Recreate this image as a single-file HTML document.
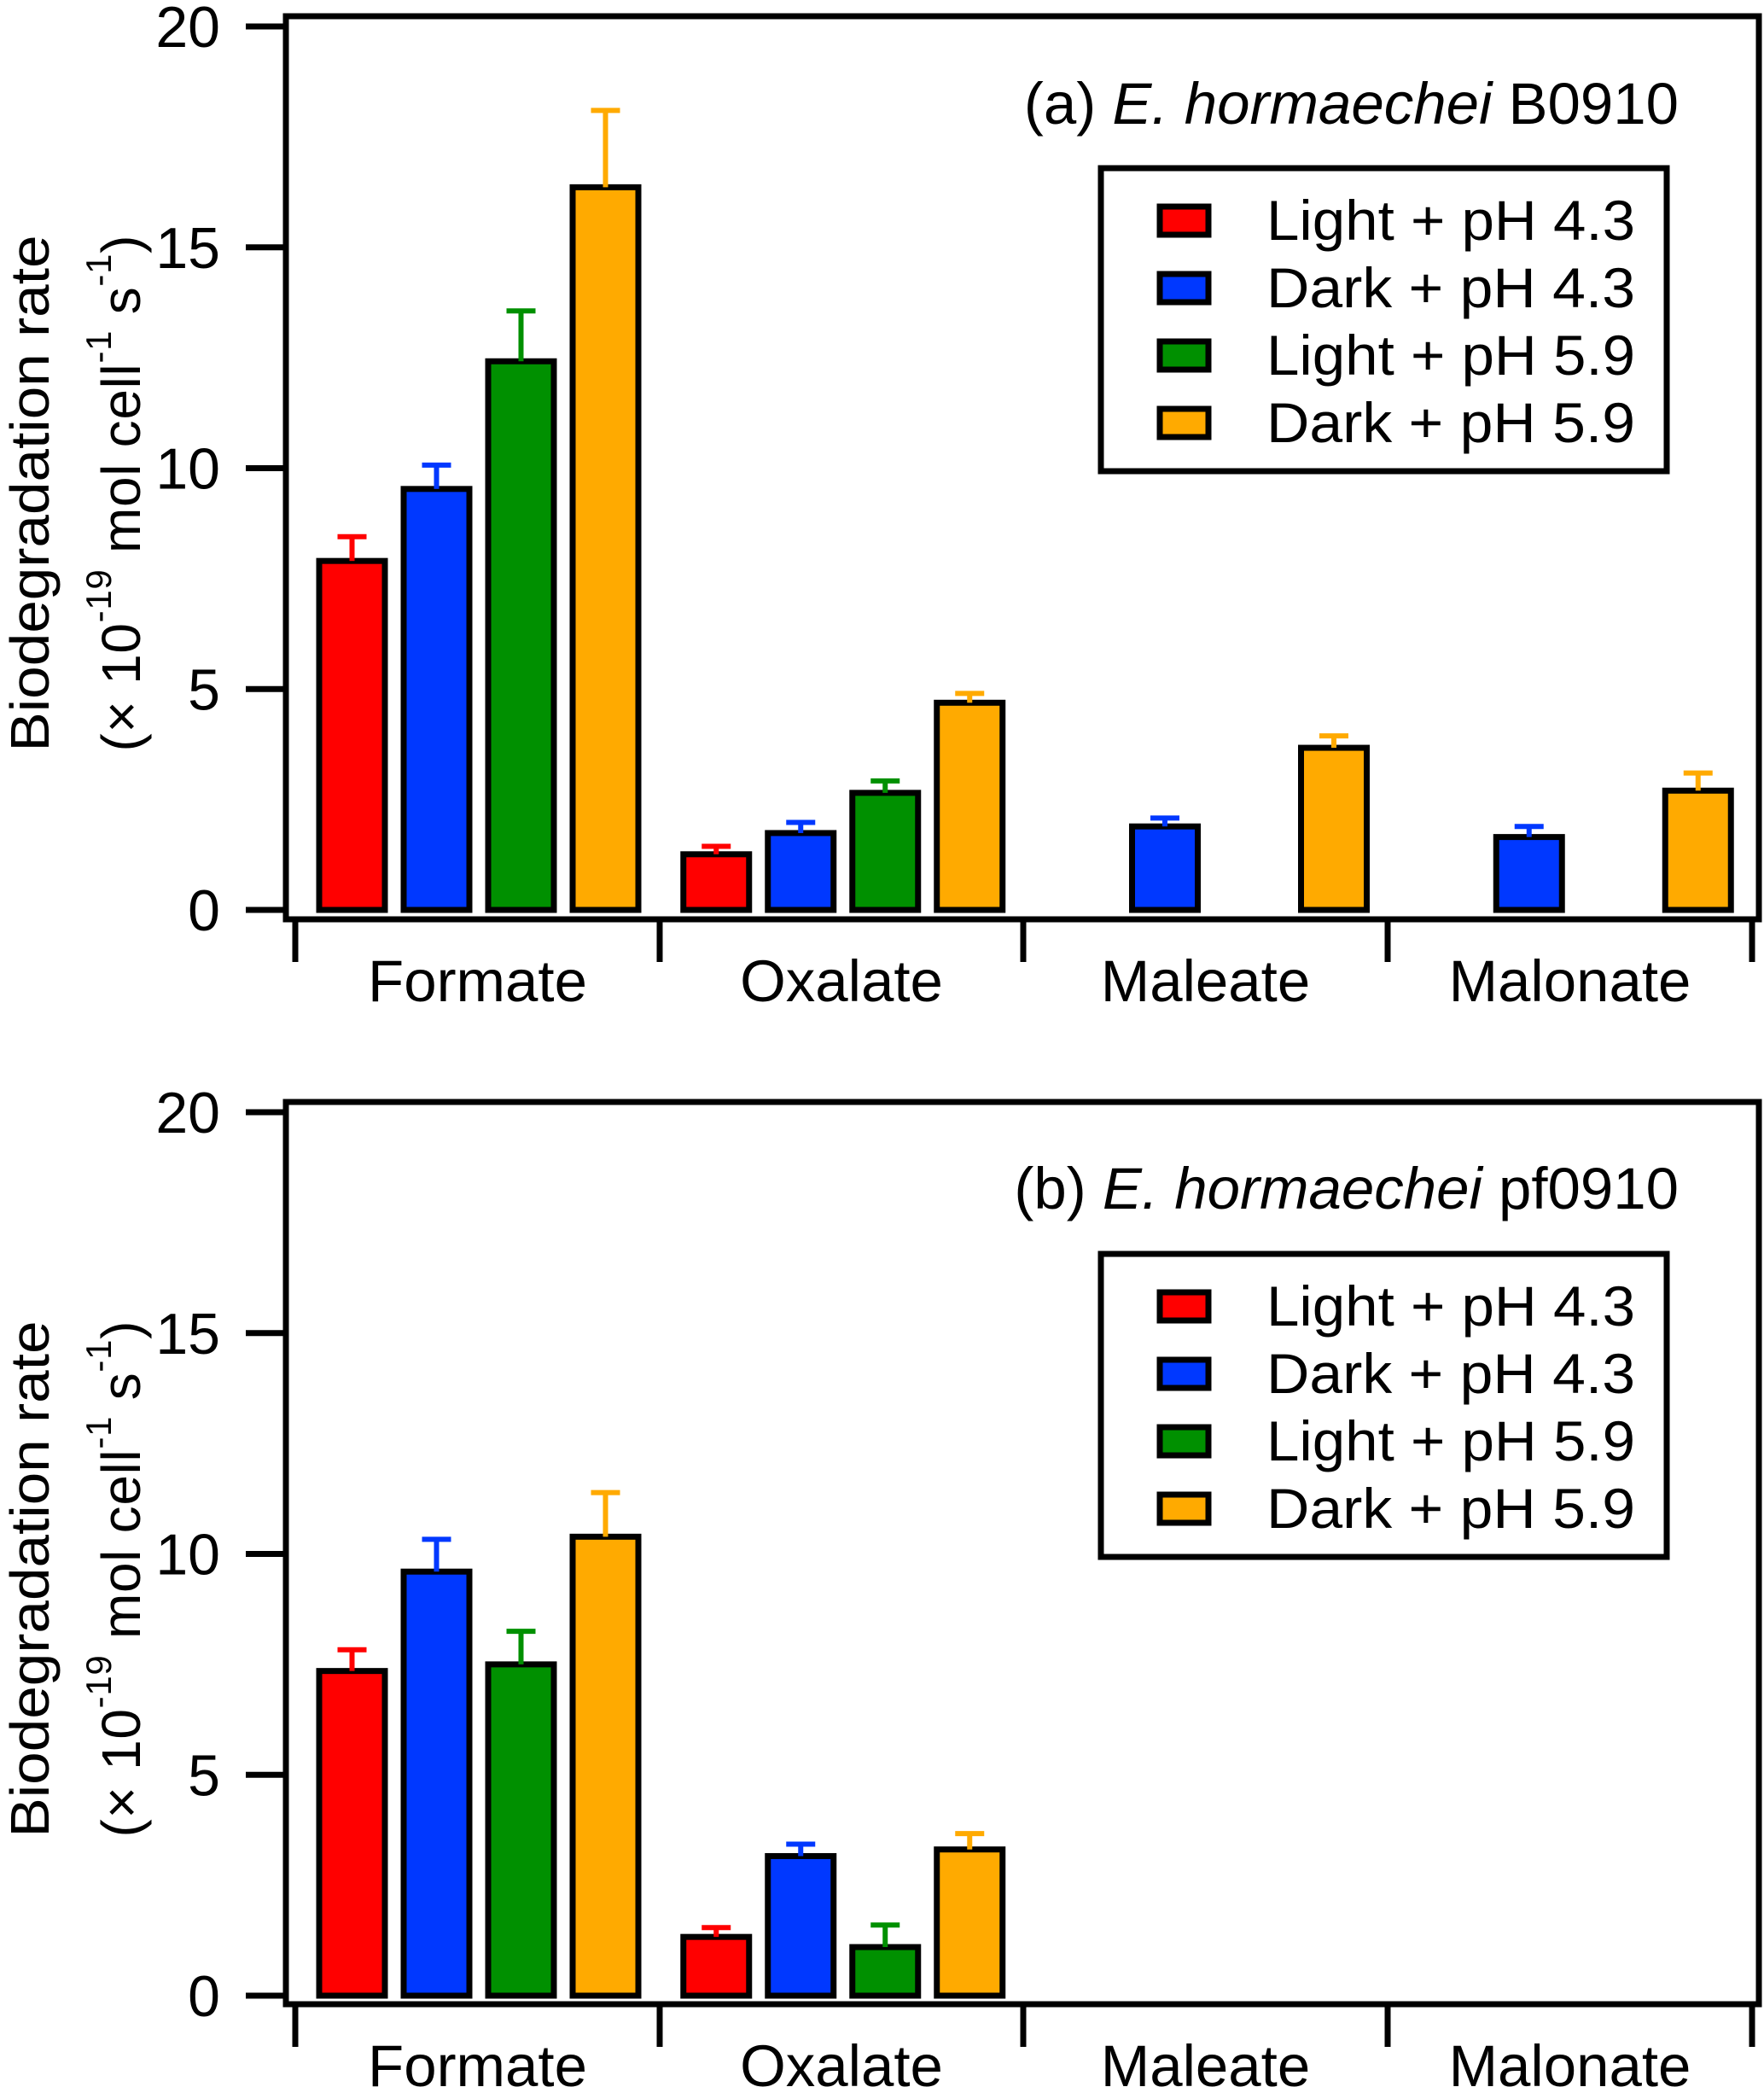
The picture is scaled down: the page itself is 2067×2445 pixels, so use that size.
<!DOCTYPE html>
<html><head><meta charset="utf-8">
<style>
html,body{margin:0;padding:0;background:#fff;}
svg{display:block;font-family:"Liberation Sans",Arial,sans-serif;}
</style></head>
<body>
<svg id="chart" width="2067" height="2445" viewBox="0 0 2067 2445" xmlns="http://www.w3.org/2000/svg"></svg>
<script>
const categories = ["Formate","Oxalate","Maleate","Malonate"];
const seriesNames = ["Light + pH 4.3","Dark + pH 4.3","Light + pH 5.9","Dark + pH 5.9"];
const seriesColors = ["#ff0000","#0038ff","#009000","#ffaa00"];
const yTicks = [0,5,10,15,20];
// panel (a) values per series, across categories (null = not measured)
const aLight43 = [7.9, 1.26, null, null];
const aDark43  = [9.53, 1.74, 1.89, 1.65];
const aLight59 = [12.42, 2.65, null, null];
const aDark59  = [16.36, 4.69, 3.67, 2.7];
const aErrLight43 = [0.55, 0.18, null, null];
const aErrDark43  = [0.54, 0.24, 0.19, 0.24];
const aErrLight59 = [1.14, 0.27, null, null];
const aErrDark59  = [1.74, 0.21, 0.27, 0.4];
// panel (b)
const bLight43 = [7.35, 1.33, null, null];
const bDark43  = [9.6, 3.16, null, null];
const bLight59 = [7.5, 1.1, null, null];
const bDark59  = [10.39, 3.31, null, null];
const bErrLight43 = [0.48, 0.21, null, null];
const bErrDark43  = [0.73, 0.27, null, null];
const bErrLight59 = [0.75, 0.5, null, null];
const bErrDark59  = [1.0, 0.36, null, null];

const NS = "http://www.w3.org/2000/svg";
const svg = document.getElementById("chart");
function el(tag, attrs, parent){
  const e = document.createElementNS(NS, tag);
  for (const k in attrs) e.setAttribute(k, attrs[k]);
  (parent||svg).appendChild(e);
  return e;
}

function drawPanel(p){
  const g = el("g", {});
  
  
  const xL = 335, xR = 2061;
  const y0 = p.y0, y20 = p.y20;
  const yScale = v => y0 - (v/20)*(y0 - y20);
  const sepX = [346, 773, 1199, 1626, 2053];
  const groupX = i => sepX[0] + i*(sepX[4]-sepX[0])/categories.length;
  const barW = 83, pitch = 99, off = 25;

  const vals = p.values, errs = p.errs;
  for (let s=0;s<4;s++){
    for (let c=0;c<categories.length;c++){
      const v = vals[s][c];
      if (v==null) continue;
      const bx = groupX(c) + off + s*pitch;
      const top = yScale(v);
      const r = el("rect", {x:bx+3, y:top, width:barW-6, height:y0-top, fill:seriesColors[s], stroke:"#000", "stroke-width":7}, g);
      
      
    }
  }
  for (let s=0;s<4;s++){
    for (let c=0;c<categories.length;c++){
      const v = vals[s][c], e = errs[s][c];
      if (v==null || e==null) continue;
      const cx = groupX(c) + off + s*pitch + barW/2;
      const yt = yScale(v), ye = yScale(v+e);
      const eg = el("g", {stroke:seriesColors[s], "stroke-width":6}, g);
      
      
      el("line", {x1:cx, y1:yt, x2:cx, y2:ye}, eg);
      el("line", {x1:cx-17, y1:ye, x2:cx+17, y2:ye}, eg);
    }
  }
  const fr = el("rect", {x:xL, y:p.top, width:xR-xL, height:p.axisY-p.top, fill:"none", stroke:"#000", "stroke-width":7}, g);
  
  
  for (const t of yTicks){
    const y = yScale(t);
    el("line", {x1:288, y1:y, x2:xL, y2:y, stroke:"#000", "stroke-width":7}, g);
    const tl = el("text", {x:258, y:y+24, "text-anchor":"end", "font-size":68}, g);
    
    
    tl.textContent = t;
  }
  for (const sx of sepX){
    el("line", {x1:sx, y1:p.axisY, x2:sx, y2:p.axisY+50, stroke:"#000", "stroke-width":7}, g);
  }
  for (let c=0;c<categories.length;c++){
    const cx = (sepX[c]+sepX[c+1])/2;
    const t = el("text", {x:cx, y:p.axisY+96, "text-anchor":"middle", "font-size":69}, g);
    
    
    t.textContent = categories[c];
  }
  const cy = p.titleY;
  const t1 = el("text", {transform:`translate(57,${cy}) rotate(-90)`, "text-anchor":"middle", "font-size":64, textLength:605, lengthAdjust:"spacingAndGlyphs"}, g);
  
  
  t1.textContent = "Biodegradation rate";
  const t2 = el("text", {transform:`translate(164,${cy}) rotate(-90)`, "text-anchor":"middle", "font-size":64, textLength:605, lengthAdjust:"spacing"}, g);
  
  
  t2.innerHTML = '(× 10<tspan font-size="42" dy="-34">-19</tspan><tspan dy="34"> mol cell</tspan><tspan font-size="42" dy="-34">-1</tspan><tspan dy="34"> s</tspan><tspan font-size="42" dy="-34">-1</tspan><tspan dy="34">)</tspan>';
  const an = el("text", {x:1967, y:p.annY, "text-anchor":"end", "font-size":69}, g);
  
  
  an.innerHTML = p.label + ' <tspan font-style="italic">E. hormaechei</tspan> ' + p.strain;
  const lg = el("g", {}, g);
  
  
  el("rect", {x:1290, y:p.legY, width:663, height:355, fill:"#fff", stroke:"#000", "stroke-width":7}, lg);
  for (let s=0;s<4;s++){
    const ry = p.legY + 61 + s*79;
    const sw = el("rect", {x:1359, y:ry-16, width:57, height:33, fill:seriesColors[s], stroke:"#000", "stroke-width":7}, lg);
    
    
    const lt = el("text", {x:1484, y:ry+23, "font-size":66, textLength:432, lengthAdjust:"spacingAndGlyphs"}, lg);
    
    
    lt.textContent = seriesNames[s];
  }
}

drawPanel({id:"a", top:19, axisY:1077, y0:1066, y20:31, titleY:578, annY:145, legY:197, label:"(a)", strain:"B0910",
  values:[aLight43,aDark43,aLight59,aDark59], errs:[aErrLight43,aErrDark43,aErrLight59,aErrDark59]});
drawPanel({id:"b", top:1291, axisY:2348, y0:2338, y20:1303, titleY:1850, annY:1416, legY:1469, label:"(b)", strain:"pf0910",
  values:[bLight43,bDark43,bLight59,bDark59], errs:[bErrLight43,bErrDark43,bErrLight59,bErrDark59]});
</script>
</body></html>
